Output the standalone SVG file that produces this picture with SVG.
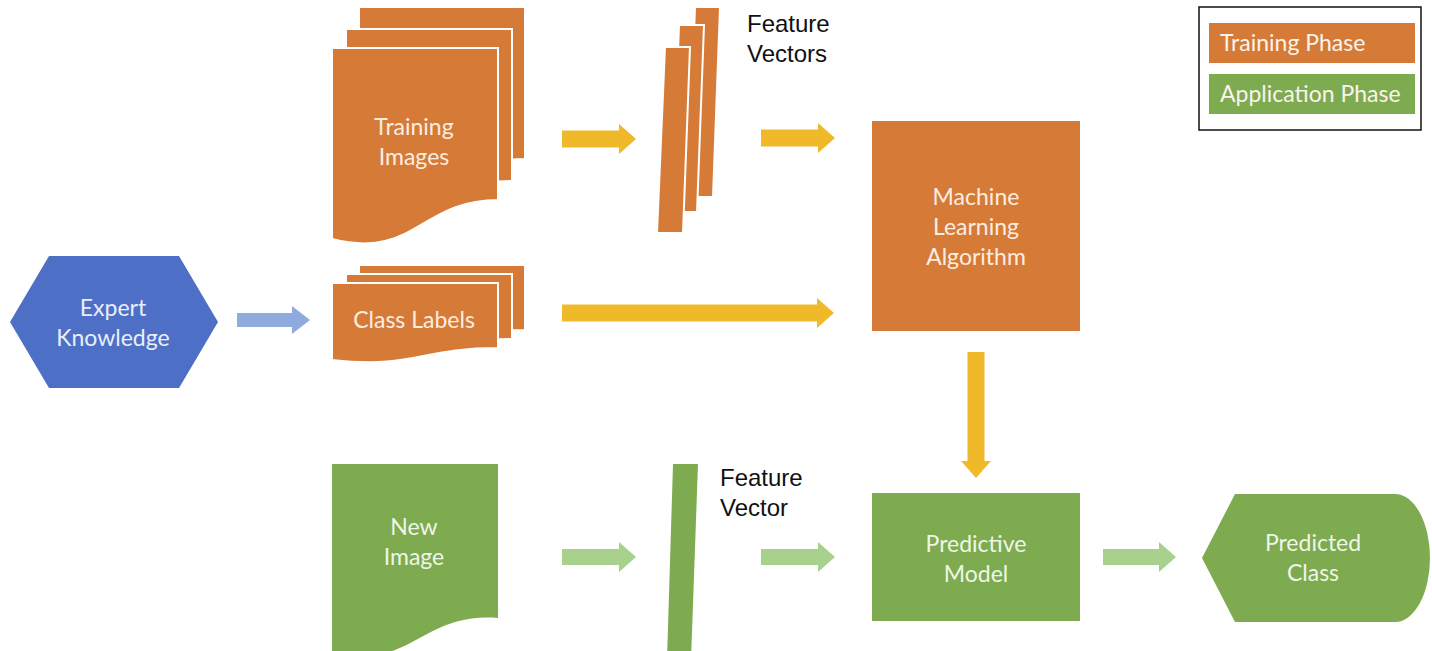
<svg xmlns="http://www.w3.org/2000/svg" xmlns:xlink="http://www.w3.org/1999/xlink" width="1432" height="651" viewBox="0 0 1432 651">
<style>
.or{fill:#D67B37}
.gr{fill:#7EAB4F}
.bl{fill:#4D70C6}
.pg{stroke:#FFFFFF;stroke-width:2}
.t{font-family:Lato,"Open Sans",sans-serif;font-size:23px;text-anchor:middle}
.to{fill:#FBEDE2}
.tg{fill:#EEF6E8}
.tb{fill:#E9EEFA}
.lbl{font-family:"Liberation Sans",Arial,sans-serif;font-size:24px;fill:#111111}
.ya{fill:#F0B92A}
.ga{fill:#A9D18E}
.ba{fill:#8FAADC}
.lg{font-family:Lato,"Open Sans",sans-serif;font-size:23px;fill:#FBF3EC}
</style>
<defs>
<path id="docTI" d="M0,0 H166 V152 C88,152 83,212 0,191 Z"/>
<path id="docCL" d="M0,0 H166 V65 C88,65 83,86 0,77 Z"/>
</defs>
<rect width="1432" height="651" fill="#FFFFFF"/>

<g id="training-images">
<use xlink:href="#docTI" class="or pg" transform="translate(359,7)"/>
<use xlink:href="#docTI" class="or pg" transform="translate(346,29)"/>
<use xlink:href="#docTI" class="or pg" transform="translate(332,48)"/>
<text class="t to" x="414" y="135">Training</text>
<text class="t to" x="414" y="165">Images</text>
</g>

<g id="feature-vectors">
<polygon class="or pg" points="695,7 720,7 713,197 688,197"/>
<polygon class="or pg" points="679,25 704,25 697,212 672,212"/>
<polygon class="or pg" points="665,47 690,47 683,233 657,233"/>
<text class="lbl" x="747" y="32">Feature</text>
<text class="lbl" x="747" y="62">Vectors</text>
</g>

<g id="ml-algorithm">
<rect class="or" x="872" y="121" width="208" height="210"/>
<text class="t to" x="976" y="205">Machine</text>
<text class="t to" x="976" y="235">Learning</text>
<text class="t to" x="976" y="265">Algorithm</text>
</g>

<g id="expert-knowledge">
<polygon class="bl" points="10,322 49,256 179,256 218,322 179,388 49,388"/>
<text class="t tb" x="113" y="316">Expert</text>
<text class="t tb" x="113" y="346">Knowledge</text>
</g>

<g id="class-labels">
<use xlink:href="#docCL" class="or pg" transform="translate(359,265)"/>
<use xlink:href="#docCL" class="or pg" transform="translate(346,274)"/>
<use xlink:href="#docCL" class="or pg" transform="translate(332,283)"/>
<text class="t to" x="414" y="328">Class Labels</text>
</g>

<g id="new-image">
<path class="gr" d="M332,464 H498 V618 C420,612 412,672 332,652 Z"/>
<text class="t tg" x="414" y="535">New</text>
<text class="t tg" x="414" y="565">Image</text>
</g>

<g id="feature-vector">
<polygon class="gr" points="673,464 698,464 691,660 667,660"/>
<text class="lbl" x="720" y="486">Feature</text>
<text class="lbl" x="720" y="516">Vector</text>
</g>

<g id="predictive-model">
<rect class="gr" x="872" y="493" width="208" height="128"/>
<text class="t tg" x="976" y="552">Predictive</text>
<text class="t tg" x="976" y="582">Model</text>
</g>

<g id="predicted-class">
<path class="gr" d="M1202,558 L1235,494 H1395 A35,64 0 0 1 1395,622 H1235 Z"/>
<text class="t tg" x="1313" y="551">Predicted</text>
<text class="t tg" x="1313" y="581">Class</text>
</g>

<g id="legend">
<rect x="1199" y="7" width="222" height="123" fill="#FFFFFF" stroke="#111111" stroke-width="1.5"/>
<rect class="or" x="1209" y="23" width="206" height="40"/>
<rect class="gr" x="1209" y="74" width="206" height="40"/>
<text class="lg" x="1220" y="51">Training Phase</text>
<text class="lg" x="1220" y="102">Application Phase</text>
</g>

<g id="connectors">
<polygon class="ya" points="562,130.5 619,130.5 619,124 636,139 619,154 619,147.5 562,147.5"/>
<polygon class="ya" points="761,129.5 818,129.5 818,123 835,138 818,153 818,146.5 761,146.5"/>
<polygon class="ya" points="562,304.5 817,304.5 817,298 834,313 817,328 817,321.5 562,321.5"/>
<polygon class="ya" points="967.5,352 984.5,352 984.5,461 991,461 976,478 961,461 967.5,461"/>
<polygon class="ba" points="237,313 292,313 292,306 310,320 292,334 292,327 237,327"/>
<polygon class="ga" points="562,549 619,549 619,542 636,557 619,572 619,565 562,565"/>
<polygon class="ga" points="761,549 818,549 818,542 835,557 818,572 818,565 761,565"/>
<polygon class="ga" points="1103,549 1159,549 1159,542 1176,557 1159,572 1159,565 1103,565"/>
</g>
</svg>
